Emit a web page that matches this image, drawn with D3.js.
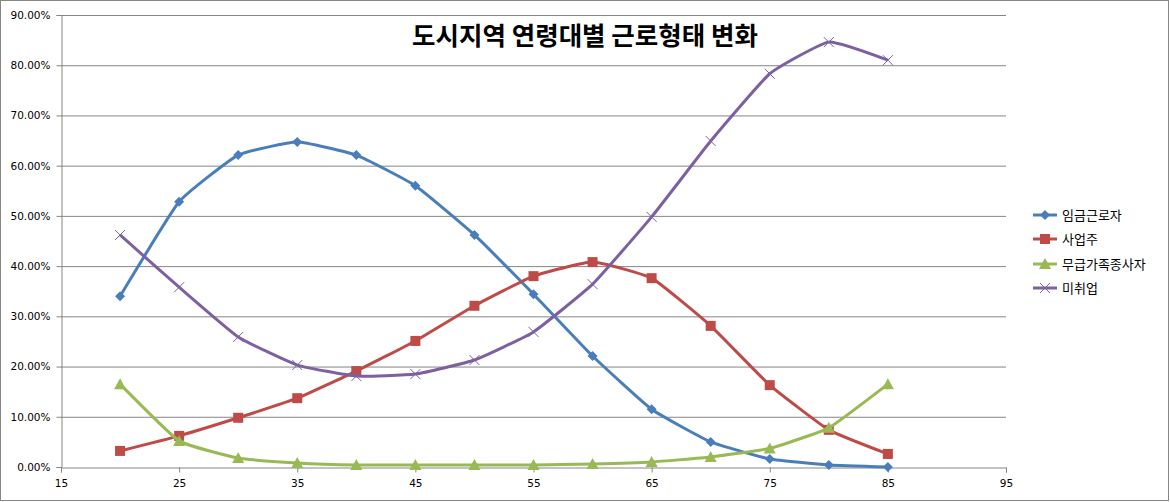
<!DOCTYPE html>
<html><head><meta charset="utf-8">
<script src="https://cdn.jsdelivr.net/npm/d3@7"></script>
<style>body{margin:0;background:#fff}</style>
</head><body>
<svg id="c" width="1170" height="502"></svg>
<script>
const ages = [20,25,30,35,40,45,50,55,60,65,70,75,80,85];
const seriesNames = ["임금근로자","사업주","무급가족종사자","미취업"];
const wage   = [34.0,52.8,62.1,64.7,62.1,56.0,46.2,34.4,22.1,11.5,5.0,1.6,0.4,0.0];
const owner  = [3.2,6.2,9.8,13.7,19.1,25.1,32.1,38.0,40.8,37.6,28.1,16.3,7.4,2.6];
const family = [16.5,5.2,1.8,0.8,0.4,0.4,0.4,0.4,0.6,1.0,2.0,3.7,7.8,16.5];
const unemp  = [46.2,35.8,25.9,20.3,18.1,18.5,21.3,26.9,36.4,49.8,64.9,78.3,84.6,81.0];
const xTicks = [15,25,35,45,55,65,75,85,95];
const yTicks = [0,10,20,30,40,50,60,70,80,90];
const title = "도시지역 연령대별 근로형태 변화";

const colors = ["#4A7EBB","#BE4B48","#98B954","#7D60A0"];
const markers = ["diamond","square","triangle","x"];
const data = [wage, owner, family, unemp];

const svg = d3.select("#c");
svg.append("rect").attr("x",0.5).attr("y",0.5).attr("width",1168).attr("height",500)
  .attr("fill","#fff").attr("stroke","#868686");

const L=61, R=1006, T=15, B=467;
const x = d3.scaleLinear().domain([15,95]).range([L,R]);
const y = d3.scaleLinear().domain([0,90]).range([B,T]);

svg.append("g").selectAll("line").data(yTicks.filter(d=>d>0)).join("line")
  .attr("x1",L).attr("x2",R).attr("y1",d=>y(d)+0.5).attr("y2",d=>y(d)+0.5)
  .attr("stroke","#868686").attr("stroke-width",1);

const ya = svg.append("g").attr("transform",`translate(${L+0.5},0)`)
  .call(d3.axisLeft(y).tickValues(yTicks).tickSize(5).tickPadding(6).tickFormat(d=>d.toFixed(2)+"%"));
ya.select(".domain").attr("stroke","#868686");
ya.selectAll(".tick line").attr("stroke","#868686");
ya.selectAll("text").attr("font-family","DejaVu Sans, sans-serif").attr("font-size","10.5px").attr("fill","#000");

const xa = svg.append("g").attr("transform",`translate(0,${B+0.5})`)
  .call(d3.axisBottom(x).tickValues(xTicks).tickSize(5).tickPadding(7).tickFormat(d3.format("d")));
xa.select(".domain").attr("stroke","#868686");
xa.selectAll(".tick line").attr("stroke","#868686");
xa.selectAll("text").attr("font-family","DejaVu Sans, sans-serif").attr("font-size","10.5px").attr("fill","#000");

svg.append("text").attr("x",585).attr("y",45).attr("text-anchor","middle")
  .attr("font-family","'Noto Sans CJK KR', sans-serif").attr("font-weight","bold")
  .attr("font-size","25.5px").attr("fill","#000").text(title);

function drawMarker(g, type, color, cx, cy){
  if(type==="diamond"){
    g.append("path").attr("d",`M${cx},${cy-5}L${cx+5},${cy}L${cx},${cy+5}L${cx-5},${cy}Z`).attr("fill",color);
  } else if(type==="square"){
    g.append("rect").attr("x",cx-5).attr("y",cy-5).attr("width",10).attr("height",10).attr("fill",color);
  } else if(type==="triangle"){
    g.append("path").attr("d",`M${cx},${cy-6}L${cx+6},${cy+5}L${cx-6},${cy+5}Z`).attr("fill",color);
  } else {
    g.append("path").attr("d",`M${cx-5},${cy-5}L${cx+5},${cy+5}M${cx+5},${cy-5}L${cx-5},${cy+5}`)
      .attr("stroke",color).attr("stroke-width",1).attr("fill","none");
  }
}

const line = d3.line().x((d,i)=>x(ages[i])).y(d=>y(d)).curve(d3.curveCardinal.tension(0.6));
data.forEach((vals,k)=>{
  const g = svg.append("g");
  g.append("path").datum(vals).attr("d",line).attr("fill","none")
    .attr("stroke",colors[k]).attr("stroke-width",3).attr("stroke-linejoin","round");
  vals.forEach((v,i)=>drawMarker(g, markers[k], colors[k], x(ages[i]), y(v)));
});

const legY = [215,239,264,288];
seriesNames.forEach((n,k)=>{
  const g = svg.append("g");
  g.append("line").attr("x1",1033).attr("x2",1057).attr("y1",legY[k]).attr("y2",legY[k])
    .attr("stroke",colors[k]).attr("stroke-width",3);
  drawMarker(g, markers[k], colors[k], 1045, legY[k]);
  g.append("text").attr("x",1062).attr("y",legY[k]+5)
    .attr("font-family","'Noto Sans CJK KR', sans-serif").attr("font-size","13px").attr("fill","#000").text(n);
});
</script>
</body></html>
